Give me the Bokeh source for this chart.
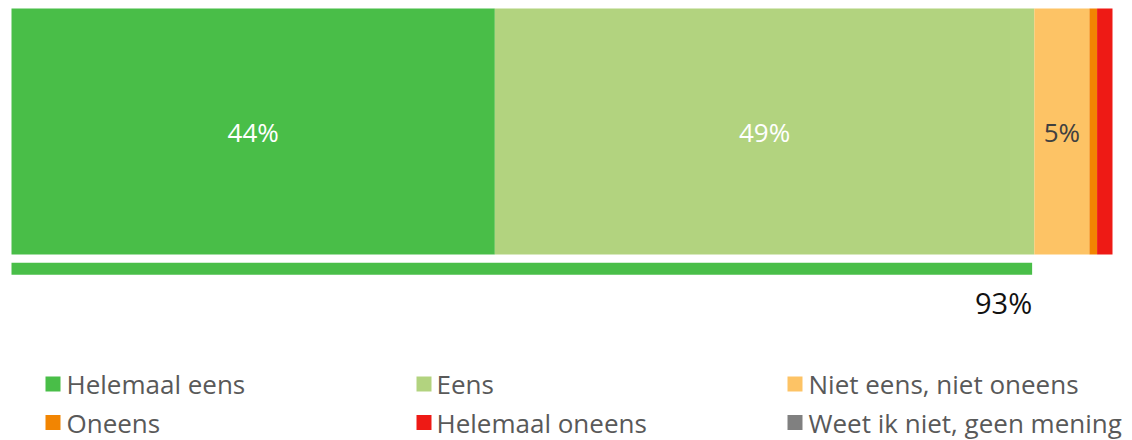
from bokeh.plotting import figure
from bokeh.models import Range1d, ColumnDataSource
from bokeh.core.properties import value
from bokeh.embed import file_html
from bokeh.resources import INLINE

# ---- data ----
categories = ["Helemaal eens", "Eens", "Niet eens, niet oneens",
              "Oneens", "Helemaal oneens", "Weet ik niet, geen mening"]
values = [43.9, 49.0, 5.0, 0.7, 1.4, 0.0]
bar_labels = ["44%", "49%", "5%", "", "", ""]
colors = ["#49BE48", "#B2D37F", "#FDC365", "#F28502", "#EE1A15", "#808080"]
label_colors = ["#FFFFFF", "#FFFFFF", "#404040", "#404040", "#404040", "#404040"]
agree_total = 92.7
agree_label = "93%"

# ---- layout ----
W, H = 1132, 440
X0 = 11.0           # px of 0 %
PX_PER_PCT = 11.01  # px per 1 %
FONT = value("Open Sans")


def px2x(px):
    return (px - X0) / PX_PER_PCT


p = figure(width=W, height=H, output_backend="svg", toolbar_location=None,
           x_range=Range1d(px2x(0), px2x(W)), y_range=Range1d(H, 0),
           min_border=0, min_border_left=0, min_border_right=0,
           min_border_top=0, min_border_bottom=0)
p.axis.visible = False
p.grid.visible = False
p.outline_line_color = None
p.background_fill_color = "white"
p.border_fill_color = "white"

# stacked bar
lefts, rights = [], []
acc = 0.0
for v in values:
    lefts.append(acc)
    acc += v
    rights.append(acc)
mids = [(l + r) / 2 for l, r in zip(lefts, rights)]

src = ColumnDataSource(dict(left=lefts, right=rights, color=colors, mid=mids,
                            label=bar_labels, lcolor=label_colors,
                            y=[131] * len(values)))
p.hbar(y="y", left="left", right="right", height=246, color="color",
       line_color=None, source=src)
p.text(x="mid", y="y", text="label", text_color="lcolor", source=src,
       text_font=FONT, text_font_size="26px", text_align="center",
       text_baseline="middle")

# agree summary line
p.hbar(y=[268.3], left=[0], right=[agree_total], height=12,
       color=colors[0], line_color=None)
p.text(x=[agree_total], y=[302], text=[agree_label], text_color="#111111",
       text_font=FONT, text_font_size="29px", text_align="right",
       text_baseline="middle")

# legend
col_sq_px = [52.5, 423.5, 794.5]
col_tx_px = [66, 436, 808]
row_y = [383.5, 422]
lx, ly, tx, ty = [], [], [], []
for i, c in enumerate(categories):
    r, k = divmod(i, 3)
    lx.append(px2x(col_sq_px[k]))
    ly.append(row_y[r])
    tx.append(px2x(col_tx_px[k]))
    ty.append(row_y[r])
p.scatter(x=lx, y=ly, marker="square", size=15, color=colors, line_color=None)
p.text(x=tx, y=ty, text=categories, text_color="#595959", text_font=FONT,
       text_font_size="26px", text_align="left", text_baseline="middle")

open("out.html", "w").write(file_html(p, INLINE))
